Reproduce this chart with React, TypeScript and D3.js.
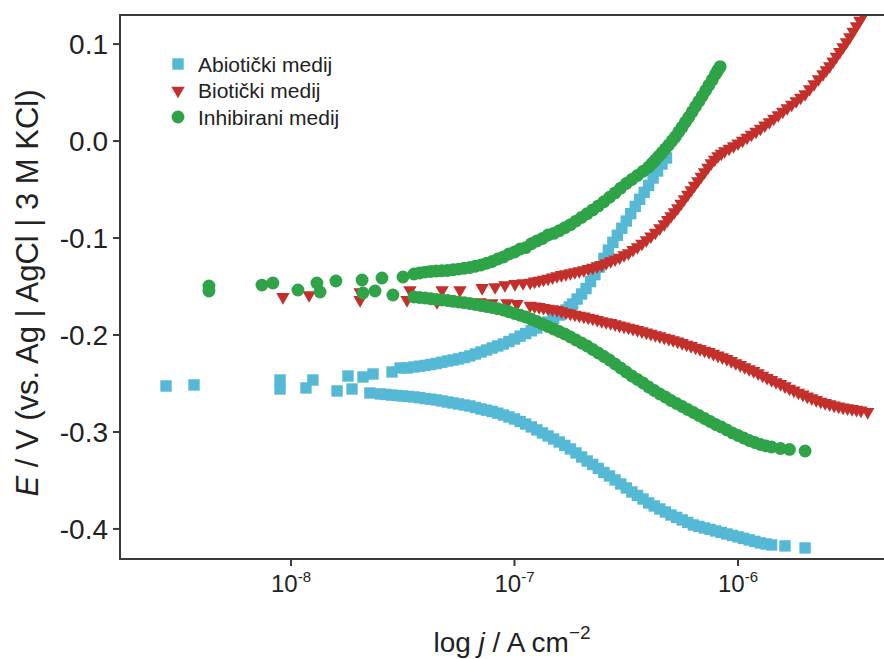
import React from 'react';
import * as d3 from 'd3';

// ---- data: [log10 j (A cm^-2), E (V vs. Ag|AgCl|3 M KCl)] ----
const abioticSparse: [number, number][] = [
  [-8.559, -0.2526], [-8.434, -0.2515], [-8.049, -0.2464], [-8.049, -0.2557], [-7.933, -0.2546],
  [-7.902, -0.2464], [-7.794, -0.2577], [-7.745, -0.2423], [-7.727, -0.2557], [-7.678, -0.2433],
  [-7.647, -0.2598], [-7.633, -0.2402],
];
const abioticAnodic: [number, number][] = [
  [-7.548, -0.2381], [-7.512, -0.234], [-7.48, -0.234], [-7.45, -0.233], [-7.425, -0.2322],
  [-7.4, -0.2314], [-7.375, -0.2304], [-7.35, -0.2294], [-7.325, -0.2281], [-7.3, -0.2268],
  [-7.275, -0.2258], [-7.25, -0.2247], [-7.225, -0.2232], [-7.2, -0.2216], [-7.175, -0.2196],
  [-7.15, -0.2175], [-7.125, -0.2155], [-7.1, -0.2134], [-7.075, -0.2113], [-7.05, -0.2093],
  [-7.025, -0.2067], [-7.0, -0.2041], [-6.975, -0.2012], [-6.95, -0.1985], [-6.925, -0.1956],
  [-6.9, -0.1928], [-6.875, -0.1897], [-6.85, -0.1866], [-6.825, -0.183], [-6.8, -0.1794],
  [-6.785, -0.1768], [-6.77, -0.1742], [-6.755, -0.1711], [-6.74, -0.168], [-6.72, -0.1629],
  [-6.7, -0.1577], [-6.68, -0.1521], [-6.66, -0.1449], [-6.64, -0.1377], [-6.62, -0.1299],
  [-6.6, -0.121], [-6.58, -0.1124], [-6.56, -0.1045], [-6.54, -0.0972], [-6.52, -0.0899],
  [-6.5, -0.0825], [-6.48, -0.0749], [-6.46, -0.0674], [-6.44, -0.0601], [-6.42, -0.0529],
  [-6.4, -0.0457], [-6.38, -0.0381], [-6.36, -0.0309], [-6.34, -0.0237], [-6.32, -0.0175],
];
const abioticCathodic: [number, number][] = [
  [-7.6, -0.2608], [-7.575, -0.2613], [-7.55, -0.2619], [-7.525, -0.2624], [-7.5, -0.2629],
  [-7.475, -0.2634], [-7.45, -0.2639], [-7.425, -0.2647], [-7.4, -0.2655], [-7.375, -0.2662],
  [-7.35, -0.267], [-7.325, -0.268], [-7.3, -0.2691], [-7.275, -0.2701], [-7.25, -0.2711],
  [-7.225, -0.2722], [-7.2, -0.2732], [-7.175, -0.2747], [-7.15, -0.2763], [-7.125, -0.2775],
  [-7.1, -0.2789], [-7.075, -0.2806], [-7.05, -0.2825], [-7.025, -0.2845], [-7.0, -0.2866],
  [-6.975, -0.2892], [-6.95, -0.2918], [-6.925, -0.2948], [-6.9, -0.2979], [-6.875, -0.301],
  [-6.85, -0.3041], [-6.825, -0.3072], [-6.8, -0.3103], [-6.775, -0.3139], [-6.75, -0.3175],
  [-6.725, -0.3216], [-6.7, -0.3258], [-6.675, -0.3299], [-6.65, -0.3335], [-6.625, -0.3376],
  [-6.6, -0.3418], [-6.575, -0.3454], [-6.55, -0.3495], [-6.525, -0.3536], [-6.5, -0.3577],
  [-6.475, -0.3619], [-6.45, -0.3655], [-6.425, -0.3691], [-6.4, -0.3732], [-6.375, -0.3763],
  [-6.35, -0.3794], [-6.325, -0.3825], [-6.3, -0.3856], [-6.275, -0.3881], [-6.25, -0.3907],
  [-6.225, -0.3933], [-6.2, -0.3959], [-6.175, -0.3974], [-6.15, -0.399], [-6.125, -0.4005],
  [-6.1, -0.4021], [-6.075, -0.4036], [-6.05, -0.4052], [-6.025, -0.4067], [-6.0, -0.4082],
  [-5.975, -0.4098], [-5.95, -0.4113], [-5.925, -0.4129], [-5.9, -0.4144], [-5.875, -0.4155],
  [-5.85, -0.4165], [-5.79, -0.4175], [-5.7, -0.4196],
];

const bioticSparse: [number, number][] = [
  [-8.036, -0.1608], [-7.919, -0.1588], [-7.691, -0.1557], [-7.691, -0.1639], [-7.481, -0.1639],
  [-7.468, -0.1536], [-7.347, -0.166], [-7.324, -0.1536], [-7.244, -0.1536], [-7.154, -0.166],
  [-7.145, -0.1515], [-7.101, -0.167], [-7.087, -0.1505], [-7.043, -0.1485], [-7.034, -0.167],
  [-6.998, -0.1474], [-6.989, -0.168], [-6.962, -0.1464],
];
const bioticAnodic: [number, number][] = [
  [-6.93, -0.1459], [-6.91, -0.1448], [-6.89, -0.1438], [-6.87, -0.1428], [-6.85, -0.1418],
  [-6.83, -0.1405], [-6.81, -0.1392], [-6.79, -0.1381], [-6.77, -0.1371], [-6.75, -0.1361],
  [-6.73, -0.1351], [-6.71, -0.134], [-6.69, -0.133], [-6.67, -0.1317], [-6.65, -0.1304],
  [-6.63, -0.1291], [-6.61, -0.1278], [-6.59, -0.1258], [-6.57, -0.1237], [-6.55, -0.1219],
  [-6.53, -0.1201], [-6.51, -0.1175], [-6.49, -0.1155], [-6.47, -0.1121], [-6.45, -0.1093],
  [-6.43, -0.1057], [-6.41, -0.1021], [-6.39, -0.0982], [-6.37, -0.0943], [-6.35, -0.0899],
  [-6.33, -0.0856], [-6.315, -0.0814], [-6.3, -0.0773], [-6.285, -0.0732], [-6.27, -0.0691],
  [-6.255, -0.0644], [-6.24, -0.0598], [-6.225, -0.0552], [-6.21, -0.0505], [-6.195, -0.0459],
  [-6.18, -0.0412], [-6.165, -0.0366], [-6.15, -0.032], [-6.135, -0.0273], [-6.12, -0.0227],
  [-6.105, -0.0191], [-6.09, -0.0155], [-6.075, -0.0129], [-6.06, -0.0103], [-6.04, -0.0077],
  [-6.02, -0.0052], [-6.0, -0.0023], [-5.98, 0.0005], [-5.96, 0.0036], [-5.94, 0.0067],
  [-5.92, 0.0098], [-5.9, 0.0129], [-5.88, 0.0162], [-5.86, 0.0196], [-5.84, 0.0232],
  [-5.82, 0.0268], [-5.8, 0.0304], [-5.78, 0.034], [-5.76, 0.0376], [-5.74, 0.0412],
  [-5.72, 0.0448], [-5.7, 0.0485], [-5.68, 0.0536], [-5.66, 0.0588], [-5.64, 0.0639],
  [-5.62, 0.0691], [-5.605, 0.0732], [-5.59, 0.0773], [-5.575, 0.0823], [-5.56, 0.0871],
  [-5.545, 0.0921], [-5.53, 0.0969], [-5.515, 0.1021], [-5.5, 0.1072], [-5.485, 0.1129],
  [-5.47, 0.1186], [-5.455, 0.1242], [-5.44, 0.1299],
];
const bioticCathodic: [number, number][] = [
  [-6.93, -0.1696], [-6.91, -0.1704], [-6.89, -0.1711], [-6.87, -0.1719], [-6.85, -0.1727],
  [-6.83, -0.1734], [-6.81, -0.1742], [-6.79, -0.1755], [-6.77, -0.1768], [-6.75, -0.1778],
  [-6.73, -0.1789], [-6.71, -0.1799], [-6.69, -0.1809], [-6.67, -0.182], [-6.65, -0.183],
  [-6.63, -0.1843], [-6.61, -0.1856], [-6.59, -0.1866], [-6.57, -0.1876], [-6.55, -0.1889],
  [-6.53, -0.1902], [-6.51, -0.1912], [-6.49, -0.1923], [-6.47, -0.1935], [-6.45, -0.1948],
  [-6.43, -0.1961], [-6.41, -0.1974], [-6.39, -0.1987], [-6.37, -0.2], [-6.35, -0.2012],
  [-6.33, -0.2026], [-6.31, -0.2038], [-6.29, -0.2052], [-6.27, -0.2067], [-6.25, -0.2082],
  [-6.23, -0.2098], [-6.21, -0.2113], [-6.19, -0.2129], [-6.17, -0.2144], [-6.15, -0.216],
  [-6.13, -0.2175], [-6.11, -0.2193], [-6.09, -0.2211], [-6.07, -0.2229], [-6.05, -0.2247],
  [-6.03, -0.2268], [-6.01, -0.2289], [-5.99, -0.2309], [-5.97, -0.233], [-5.95, -0.2351],
  [-5.93, -0.2371], [-5.91, -0.2394], [-5.89, -0.2418], [-5.87, -0.2441], [-5.85, -0.2464],
  [-5.83, -0.2485], [-5.81, -0.2505], [-5.79, -0.2528], [-5.77, -0.2552], [-5.75, -0.2572],
  [-5.73, -0.2593], [-5.71, -0.2613], [-5.69, -0.2634], [-5.67, -0.2652], [-5.65, -0.267],
  [-5.63, -0.2686], [-5.61, -0.2701], [-5.59, -0.2714], [-5.57, -0.2727], [-5.55, -0.2737],
  [-5.53, -0.2747], [-5.51, -0.2755], [-5.49, -0.2763], [-5.47, -0.277], [-5.45, -0.2778],
  [-5.42, -0.2794],
];

const inhibitedSparse: [number, number][] = [
  [-8.367, -0.1495], [-8.367, -0.1546], [-8.13, -0.1485], [-8.081, -0.1464], [-7.969, -0.1536],
  [-7.884, -0.1464], [-7.87, -0.1557], [-7.799, -0.1443], [-7.682, -0.1433], [-7.678, -0.1567],
  [-7.624, -0.1546], [-7.593, -0.1412], [-7.544, -0.1588], [-7.499, -0.1402],
];
const inhibitedAnodic: [number, number][] = [
  [-7.45, -0.1371], [-7.425, -0.1361], [-7.4, -0.1351], [-7.375, -0.1345], [-7.35, -0.134],
  [-7.325, -0.1337], [-7.3, -0.1335], [-7.275, -0.1327], [-7.25, -0.132], [-7.225, -0.1312],
  [-7.2, -0.1304], [-7.175, -0.1291], [-7.15, -0.1278], [-7.125, -0.126], [-7.1, -0.1242],
  [-7.075, -0.1216], [-7.05, -0.1196], [-7.025, -0.1165], [-7.0, -0.1144], [-6.975, -0.1113],
  [-6.95, -0.1099], [-6.925, -0.1059], [-6.9, -0.1031], [-6.875, -0.1005], [-6.85, -0.0969],
  [-6.825, -0.0952], [-6.8, -0.0925], [-6.775, -0.0894], [-6.75, -0.0863], [-6.725, -0.0825],
  [-6.7, -0.0787], [-6.675, -0.0748], [-6.65, -0.071], [-6.625, -0.0668], [-6.6, -0.0626],
  [-6.575, -0.0579], [-6.55, -0.0534], [-6.525, -0.0485], [-6.5, -0.0437], [-6.475, -0.0396],
  [-6.45, -0.0355], [-6.425, -0.0311], [-6.4, -0.0268], [-6.385, -0.0232], [-6.37, -0.0196],
  [-6.355, -0.0157], [-6.34, -0.0119], [-6.325, -0.008], [-6.31, -0.0041], [-6.295, 0.0003],
  [-6.28, 0.0046], [-6.265, 0.0096], [-6.25, 0.0144], [-6.235, 0.0196], [-6.22, 0.0247],
  [-6.205, 0.0302], [-6.19, 0.0356], [-6.175, 0.041], [-6.16, 0.0464], [-6.145, 0.0521],
  [-6.13, 0.0577], [-6.115, 0.0634], [-6.1, 0.0691], [-6.09, 0.0732], [-6.08, 0.0768],
];
const inhibitedCathodic: [number, number][] = [
  [-7.45, -0.1608], [-7.425, -0.1613], [-7.4, -0.1619], [-7.375, -0.1626], [-7.35, -0.1634],
  [-7.325, -0.1639], [-7.3, -0.1644], [-7.275, -0.1652], [-7.25, -0.166], [-7.225, -0.1667],
  [-7.2, -0.1675], [-7.175, -0.1686], [-7.15, -0.1696], [-7.125, -0.1706], [-7.1, -0.1716],
  [-7.075, -0.1729], [-7.05, -0.1742], [-7.025, -0.176], [-7.0, -0.1778], [-6.975, -0.1796],
  [-6.95, -0.1814], [-6.925, -0.1838], [-6.9, -0.1861], [-6.875, -0.1887], [-6.85, -0.1912],
  [-6.825, -0.1938], [-6.8, -0.1964], [-6.775, -0.199], [-6.75, -0.2021], [-6.725, -0.2052],
  [-6.7, -0.2082], [-6.675, -0.2113], [-6.65, -0.2149], [-6.625, -0.2186], [-6.6, -0.2222],
  [-6.575, -0.2258], [-6.55, -0.2299], [-6.525, -0.234], [-6.5, -0.2381], [-6.475, -0.2423],
  [-6.45, -0.2459], [-6.425, -0.2495], [-6.4, -0.2536], [-6.375, -0.2572], [-6.35, -0.2608],
  [-6.325, -0.2639], [-6.3, -0.2675], [-6.275, -0.2706], [-6.25, -0.2737], [-6.225, -0.2768],
  [-6.2, -0.2799], [-6.175, -0.283], [-6.15, -0.2861], [-6.125, -0.2892], [-6.1, -0.2923],
  [-6.075, -0.2948], [-6.05, -0.2979], [-6.025, -0.301], [-6.0, -0.3036], [-5.975, -0.3062],
  [-5.95, -0.3088], [-5.925, -0.3108], [-5.9, -0.3129], [-5.875, -0.3144], [-5.85, -0.3155],
  [-5.81, -0.317], [-5.77, -0.318], [-5.7, -0.3196],
];

const seriesNames = ['Abiotički medij', 'Biotički medij', 'Inhibirani medij'];
const seriesColors = ['#55b9d6', '#c3302b', '#2ea348'];
const xTickExponents = [-8, -7, -6];
const yTickValues = [0.1, 0.0, -0.1, -0.2, -0.3, -0.4];

const FONT = "'Liberation Sans', Arial, Helvetica, sans-serif";

export default function App() {
  const W = 884, H = 659;
  const left = 120, right = 884, top = 15, bottom = 559;
  const x = d3.scaleLog().domain([Math.pow(10, -8.765), Math.pow(10, -5.347)]).range([left, right]);
  const y = d3.scaleLinear().domain([-0.431, 0.13]).range([bottom, top]);

  const square = d3.symbol().type(d3.symbolSquare).size(130)() as string;
  const triangle = d3.symbol().type(d3.symbolTriangle).size(78)() as string;
  const circle = d3.symbol().type(d3.symbolCircle).size(130)() as string;
  const shapes = [square, triangle, circle];
  const rot = [0, 180, 0];

  const series = [
    [...abioticSparse, ...abioticCathodic, ...abioticAnodic],
    [...bioticSparse, ...bioticCathodic, ...bioticAnodic],
    [...inhibitedSparse, ...inhibitedCathodic, ...inhibitedAnodic],
  ];
  const drawOrder = [0, 1, 2];

  return (
    <svg width={W} height={H} style={{ position: 'absolute', left: 0, top: 0, background: '#fff' }} fontFamily={FONT}>
      <defs>
        <clipPath id="plotClip">
          <rect x={left} y={top} width={right - left} height={bottom - top} />
        </clipPath>
      </defs>
      <rect x={0} y={0} width={W} height={H} fill="#fff" />

      <g clipPath="url(#plotClip)">
        {drawOrder.map((si) => (
          <g key={si} fill={seriesColors[si]}>
            {series[si].map((p, i) => (
              <path
                key={i}
                d={shapes[si]}
                transform={`translate(${x(Math.pow(10, p[0]))},${y(p[1])}) rotate(${rot[si]})`}
              />
            ))}
          </g>
        ))}
      </g>

      {/* frame */}
      <path d={`M${right},${top}H${left}V${bottom}H${right}`} fill="none" stroke="#3a3a3a" strokeWidth={2} />

      {/* y ticks */}
      {yTickValues.map((v) => (
        <g key={v}>
          <line x1={left - 7} x2={left} y1={y(v)} y2={y(v)} stroke="#3a3a3a" strokeWidth={2} />
          <text x={left - 12} y={y(v)} dy="0.36em" textAnchor="end" fontSize={28} fill="#222">
            {d3.format('.1f')(v).replace('−', '-')}
          </text>
        </g>
      ))}

      {/* x ticks */}
      {xTickExponents.map((e) => (
        <g key={e}>
          <line x1={x(Math.pow(10, e))} x2={x(Math.pow(10, e))} y1={bottom} y2={bottom + 7} stroke="#3a3a3a" strokeWidth={2} />
          <text x={x(Math.pow(10, e))} y={592} textAnchor="middle" fontSize={24} fill="#222">
            10<tspan fontSize={15} dy={-10}>{`${e}`}</tspan>
          </text>
        </g>
      ))}

      {/* axis titles */}
      <text x={512} y={652} textAnchor="middle" fontSize={28} fill="#222">
        log <tspan fontStyle="italic">j</tspan> / A cm<tspan fontSize={19} dy={-13}>−2</tspan>
      </text>
      <text transform={`translate(38,${293}) rotate(-90)`} textAnchor="middle" fontSize={31} fill="#222">
        <tspan fontStyle="italic">E</tspan> / V (vs. Ag | AgCl | 3 M KCl)
      </text>

      {/* legend */}
      {seriesNames.map((name, i) => (
        <g key={name} transform={`translate(178,${64 + i * 26.5})`}>
          <path d={shapes[i]} transform={`rotate(${rot[i]})`} fill={seriesColors[i]} />
          <text x={20} y={0} dy="0.36em" fontSize={21} fill="#222">{name}</text>
        </g>
      ))}
    </svg>
  );
}
